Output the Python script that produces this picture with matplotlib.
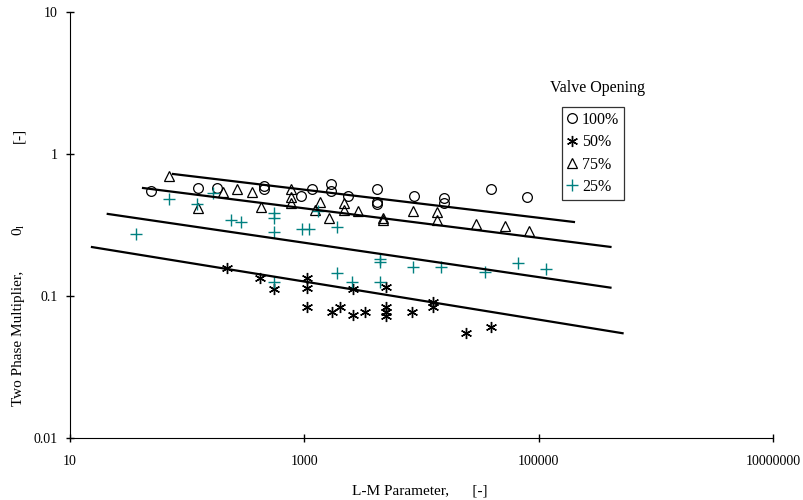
import matplotlib
matplotlib.use("Agg")
import matplotlib.pyplot as plt
import numpy as np
from matplotlib.ticker import FixedLocator, FixedFormatter, NullLocator

plt.rcParams['font.family'] = ['Liberation Serif', 'DejaVu Serif']
plt.rcParams['mathtext.fontset'] = 'custom'
plt.rcParams['mathtext.rm'] = 'Liberation Serif'
plt.rcParams['mathtext.it'] = 'Liberation Serif:italic'

# ---- data ----
x100 = [49, 124, 180, 452, 452, 935, 1160, 1690, 1690, 2350, 4160, 4160, 4160, 8600, 15500, 15500, 39100, 79300]
y100 = [0.549, 0.576, 0.576, 0.595, 0.567, 0.506, 0.567, 0.615, 0.549, 0.506, 0.567, 0.459, 0.445, 0.506, 0.490, 0.452, 0.567, 0.498]

x50 = [219, 418, 550, 1052, 1052, 1052, 1720, 2010, 2600, 2600, 3290, 4970, 4970, 4970, 4970, 8280, 12500, 12500, 23900, 39100]
y50 = [0.157, 0.134, 0.112, 0.134, 0.114, 0.0837, 0.0771, 0.0837, 0.112, 0.0735, 0.0771, 0.116, 0.0837, 0.0771, 0.0723, 0.0771, 0.0907, 0.0837, 0.0549, 0.0605]

x75 = [70, 124, 202, 266, 357, 426, 769, 769, 769, 1231, 1359, 1622, 2180, 2180, 2870, 4690, 4690, 8450, 13530, 13530, 29100, 51500, 82400]
y75 = [0.700, 0.417, 0.540, 0.567, 0.540, 0.424, 0.567, 0.498, 0.452, 0.403, 0.459, 0.354, 0.452, 0.403, 0.397, 0.354, 0.343, 0.397, 0.391, 0.343, 0.321, 0.311, 0.287]

x25 = [36.6, 70, 121, 166, 236, 288, 550, 550, 550, 550, 955, 1094, 1306, 1897, 1897, 2550, 4420, 4420, 4420, 8450, 14650, 34760, 66500, 115100]
y25 = [0.273, 0.482, 0.445, 0.532, 0.343, 0.332, 0.384, 0.354, 0.282, 0.1255, 0.296, 0.296, 0.397, 0.306, 0.145, 0.1255, 0.182, 0.174, 0.1255, 0.160, 0.160, 0.148, 0.171, 0.155]

# power-law trend lines: y = a * x**b over [xmin, xmax]
fit_a = [1.109, 0.850, 0.547, 0.319]
fit_b = [-0.0988, -0.104, -0.121, -0.134]
fit_xmin = [75.7, 42, 21, 15.4]
fit_xmax = [2.0e5, 4.1e5, 4.1e5, 5.2e5]

labels = ['100%', '50%', '75%', '25%']
xticks = [10, 1000, 100000, 10000000]
xticklabels = ['10', '1000', '100000', '10000000']
yticks = [0.01, 0.1, 1, 10]
yticklabels = ['0.01', '0.1', '1', '10']

# ---- figure ----
fig = plt.figure(figsize=(8.04, 5.0), dpi=100)
ax = fig.add_axes([70/804, 1-438/500, (773-70)/804, (438-12)/500])
ax.set_xscale('log')
ax.set_yscale('log')
ax.set_xlim(10, 1e7)
ax.set_ylim(0.01, 10)

teal = '#008080'
h1, = ax.plot(x100, y100, linestyle='none', marker='o', markersize=7, mfc='none', mec='black', mew=0.9, label=labels[0])
h2, = ax.plot(x50, y50, linestyle='none', marker=(6, 2, 0), markersize=8, color='black', mew=1.0, label=labels[1])
h3, = ax.plot(x75, y75, linestyle='none', marker='^', markersize=7.5, mfc='none', mec='black', mew=0.9, label=labels[2])
h4, = ax.plot(x25, y25, linestyle='none', marker='+', markersize=8, color=teal, mew=1.0, label=labels[3])

for a, b, lo, hi in zip(fit_a, fit_b, fit_xmin, fit_xmax):
    xs = np.array([lo, hi])
    ax.plot(xs, a * xs ** b, color='black', lw=1.6)

ax.spines['top'].set_visible(False)
ax.spines['right'].set_visible(False)
ax.xaxis.set_major_locator(FixedLocator(xticks))
ax.xaxis.set_major_formatter(FixedFormatter(xticklabels))
ax.yaxis.set_major_locator(FixedLocator(yticks))
ax.yaxis.set_major_formatter(FixedFormatter(yticklabels))
ax.xaxis.set_minor_locator(NullLocator())
ax.yaxis.set_minor_locator(NullLocator())
ax.tick_params(axis='both', direction='inout', length=6, width=1, labelsize=10, pad=9)
ax.tick_params(axis='y', pad=6)

ax.set_xlabel('L-M Parameter,      [-]', fontsize=11)
ax.xaxis.set_label_coords(0.498, -0.11)

# y label split in pieces to reproduce the wide spacing of the original
fig.text(19/804, 1-338/500, 'Two Phase Multiplier,', rotation=90, ha='center', va='center', fontsize=11)
fig.text(19/804, 1-230/500, '0$_{\\mathregular{l}}$', rotation=90, ha='center', va='center', fontsize=11)
fig.text(19/804, 1-135/500, '[-]', rotation=90, ha='center', va='center', fontsize=11)

leg = ax.legend(handles=[h1, h2, h3, h4], loc='upper left',
                bbox_to_anchor=(562/804, 1-107/500), bbox_transform=fig.transFigure,
                fontsize=11.5, frameon=True, fancybox=False, shadow=False,
                handlelength=0.6, handletextpad=0.35, borderpad=0.3, labelspacing=0.40,
                borderaxespad=0)
leg.get_frame().set_edgecolor('black')
leg.get_frame().set_linewidth(0.9)
fig.text(598/804, 1-88/500, 'Valve Opening', ha='center', va='center', fontsize=11.5)

fig.savefig('out.png', dpi=100)
